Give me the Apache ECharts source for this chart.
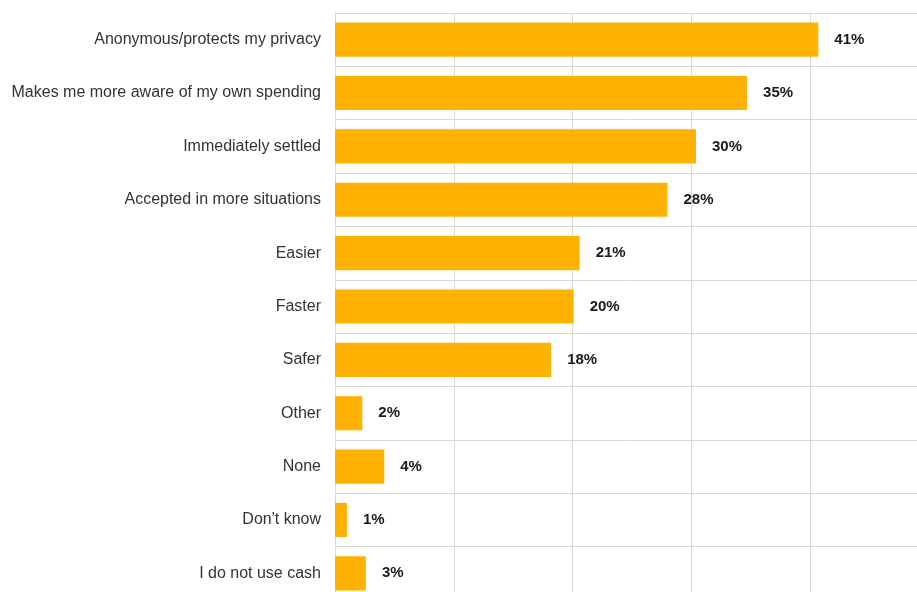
<!DOCTYPE html>
<html><head><meta charset="utf-8">
<script src="https://cdn.jsdelivr.net/npm/echarts@6/dist/echarts.min.js"></script>
<style>html,body{margin:0;padding:0;background:#fff;overflow:hidden;width:917px;height:592px}#c{width:929px;height:600px}</style>
</head><body><div id="c"></div>
<script>
var categories = ["Anonymous/protects my privacy","Makes me more aware of my own spending","Immediately settled","Accepted in more situations","Easier","Faster","Safer","Other","None","Don't know","I do not use cash"];
var values = [40.7, 34.7, 30.4, 28.0, 20.6, 20.1, 18.2, 2.3, 4.15, 1.0, 2.6];
var labels = ["41%","35%","30%","28%","21%","20%","18%","2%","4%","1%","3%"];
var axisMin = 0, axisMax = 50, axisStep = 10;

var chart = echarts.init(document.getElementById('c'), null, {renderer:'canvas', width:929, height:600});
chart.setOption({
  animation:false,
  grid:{left:335, top:13, right:0.25, bottom:0, containLabel:false},
  xAxis:{type:'value', min:axisMin, max:axisMax, interval:axisStep,
    axisLabel:{show:false}, axisLine:{show:false}, axisTick:{show:false},
    splitLine:{show:true, lineStyle:{color:'#d9d9d9', width:1}}},
  yAxis:{type:'category', data:categories, inverse:true,
    axisLine:{show:true, lineStyle:{color:'#d9d9d9'}},
    axisTick:{show:false},
    splitLine:{show:true, lineStyle:{color:'#d9d9d9', width:1}},
    axisLabel:{color:'#333', fontFamily:'Liberation Sans, Arial, sans-serif', fontSize:16, margin:14}},
  series:[{type:'bar', data:values, barCategoryGap:'36%',
    itemStyle:{color:'#FFB300'},
    label:{show:true, position:'right', distance:16, color:'#1a1a1a',
      fontFamily:'Liberation Sans, Arial, sans-serif', fontWeight:'bold', fontSize:15,
      formatter:function(p){return labels[p.dataIndex];}}}]
});
</script></body></html>
